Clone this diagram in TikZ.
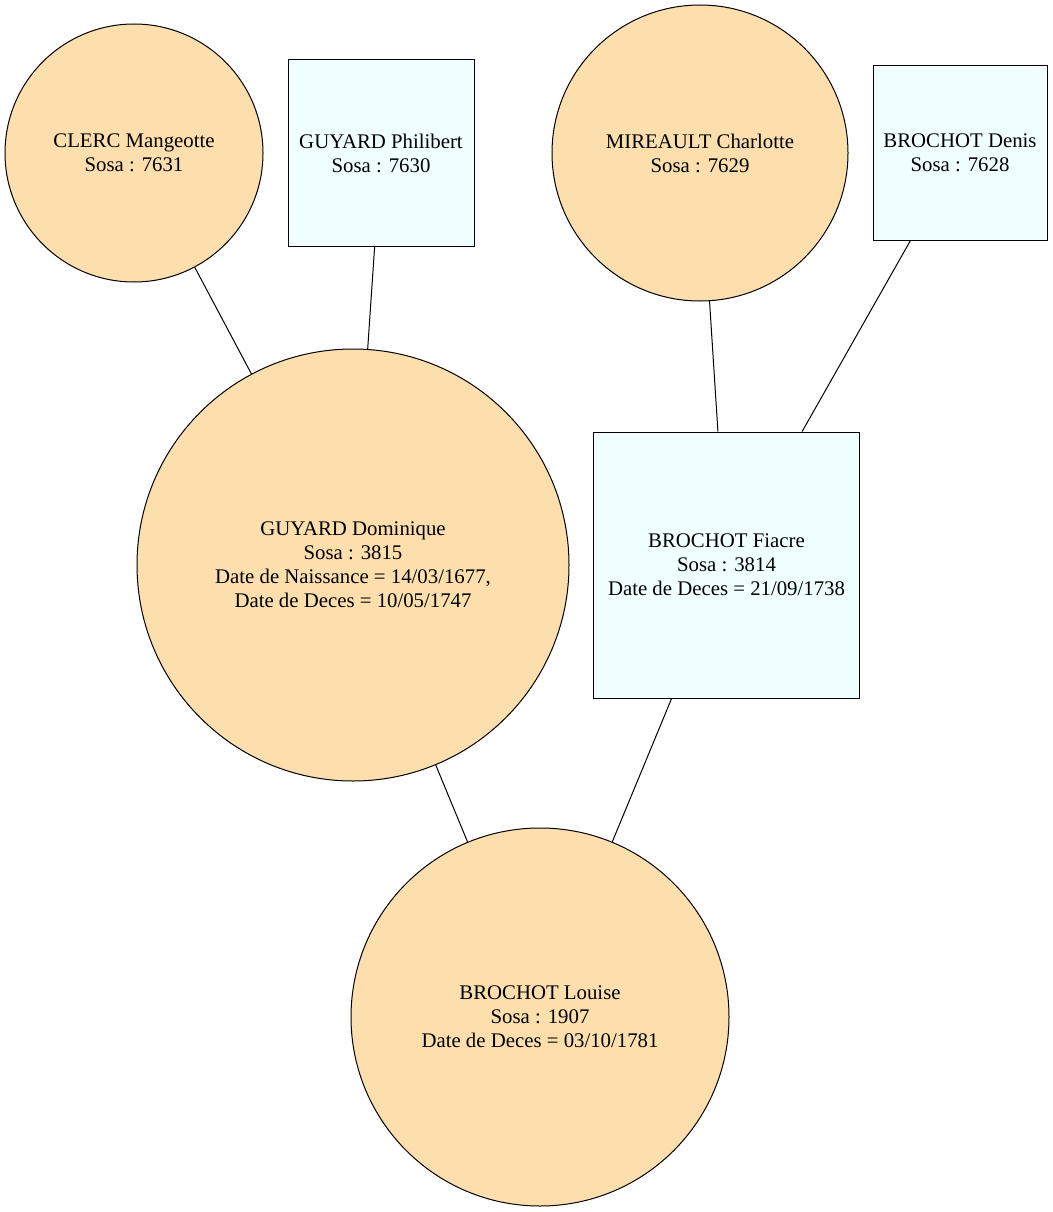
\documentclass[tikz,border=0pt]{standalone}
\usepackage{fontspec}
\setmainfont{Liberation Serif}
\definecolor{femme}{HTML}{FDDEAD}
\definecolor{homme}{HTML}{F0FFFF}
\begin{document}
\begin{tikzpicture}[x=1pt,y=-1pt,
  person/.style={draw=black,line width=1pt,inner sep=0pt,align=center,
    font=\fontsize{20.8}{24}\selectfont},
  femmenode/.style={person,circle,fill=femme,minimum size=#1},
  hommenode/.style={person,rectangle,fill=homme,minimum width=#1,minimum height=#1},
  lien/.style={draw=black,line width=1pt}]
\useasboundingbox[fill=white] (0,0) rectangle (1052,1212);

% generation of the great-grandparents
\node[femmenode=258pt] (clerc) at (134,153) {CLERC Mangeotte\\Sosa : 7631};
\node[hommenode=186pt] (philibert) at (381,153) {GUYARD Philibert\\Sosa : 7630};
\node[femmenode=296pt] (mireault) at (700,153) {MIREAULT Charlotte\\Sosa : 7629};
\node[hommenode=174pt] (denis) at (960,153) {BROCHOT Denis\\Sosa : 7628};

% generation of the parents
\node[femmenode=432pt] (dominique) at (353,565) {GUYARD Dominique\\Sosa : 3815\\Date de Naissance = 14/03/1677,\\Date de Deces = 10/05/1747};
\node[hommenode=266pt] (fiacre) at (726.5,565) {BROCHOT Fiacre\\Sosa : 3814\\Date de Deces = 21/09/1738};

% root person
\node[femmenode=378pt] (louise) at (540,1017) {BROCHOT Louise\\Sosa : 1907\\Date de Deces = 03/10/1781};

% filiation links
\draw[lien] (clerc) -- (dominique);
\draw[lien] (philibert) -- (dominique);
\draw[lien] (mireault) -- (fiacre);
\draw[lien] (denis) -- (fiacre);
\draw[lien] (dominique) -- (louise);
\draw[lien] (fiacre) -- (louise);
\end{tikzpicture}
\end{document}
